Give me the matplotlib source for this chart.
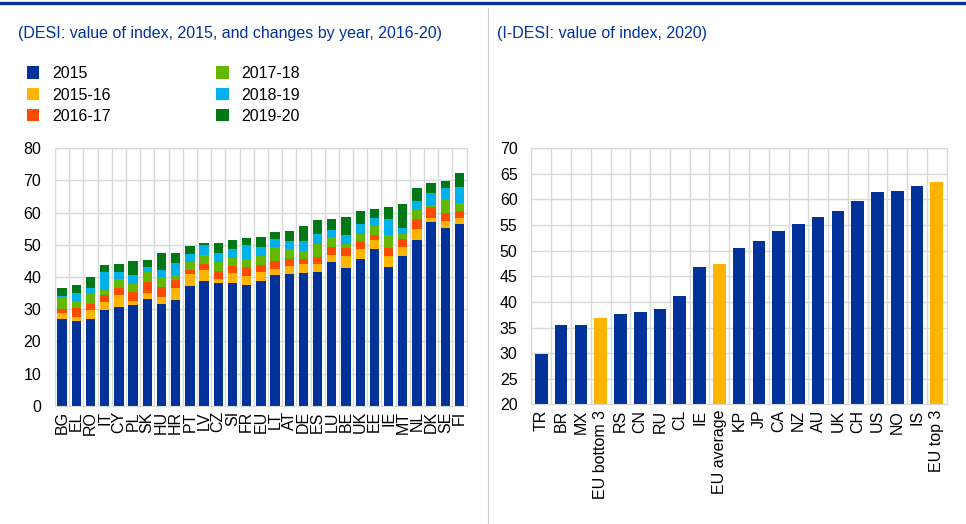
import numpy as np
import matplotlib
matplotlib.use("Agg")
import matplotlib.pyplot as plt
from matplotlib.lines import Line2D

plt.rcParams["font.family"] = ["Liberation Sans", "DejaVu Sans"]
plt.rcParams["font.size"] = 11.5

# datos panel izquierdo (DESI)
countries = ["BG", "EL", "RO", "IT", "CY", "PL", "SK", "HU", "HR", "PT", "LV", "CZ", "SI", "FR", "EU",
             "LT", "AT", "DE", "ES", "LU", "BE", "UK", "EE", "IE", "MT", "NL", "DK", "SE", "FI"]
v2015 = [26.9, 26.2, 27.0, 29.8, 30.8, 31.4, 33.1, 31.7, 32.9, 37.2, 38.6, 38.2, 38.2, 37.5, 38.9,
         40.5, 40.8, 41.2, 41.4, 44.8, 42.9, 45.7, 48.8, 43.1, 46.5, 51.4, 57.1, 55.3, 56.6]
d1516 = [1.9, 1.4, 2.8, 2.4, 3.6, 1.2, 1.9, 2.2, 3.7, 3.6, 3.5, 1.3, 3.1, 2.9, 2.5,
         2.1, 2.7, 2.9, 2.7, 2.1, 3.5, 3.1, 2.7, 3.5, 2.8, 3.5, 1.3, 2.2, 1.7]
d1617 = [1.3, 2.9, 1.9, 2.1, 2.3, 2.8, 3.5, 3.0, 2.5, 1.4, 2.0, 2.4, 2.0, 2.7, 2.3,
         2.5, 2.0, 1.6, 2.0, 2.3, 2.5, 2.4, 1.6, 2.3, 2.6, 3.0, 3.2, 2.5, 2.1]
d1718 = [3.6, 1.9, 3.3, 1.8, 2.8, 2.3, 3.2, 3.1, 1.6, 2.6, 2.6, 2.8, 2.6, 2.6, 2.8,
         4.3, 3.1, 2.4, 4.2, 3.3, 1.3, 2.1, 2.6, 4.1, 1.4, 3.0, 0.9, 4.1, 2.5]
d1819 = [0.3, 2.7, 1.7, 5.5, 1.9, 3.0, 1.3, 2.3, 3.6, 2.3, 3.1, 2.6, 2.8, 4.1, 2.8,
         2.5, 2.7, 3.2, 3.2, 2.1, 2.8, 3.3, 2.6, 5.0, 2.0, 2.8, 3.5, 3.5, 5.1]
d1920 = [2.6, 2.3, 3.4, 2.0, 2.6, 4.2, 2.2, 5.2, 3.2, 2.4, 0.9, 3.4, 2.7, 2.3, 3.2,
         2.0, 3.1, 4.7, 4.1, 3.3, 5.7, 3.8, 2.7, 3.8, 7.3, 4.0, 3.2, 2.1, 4.3]
series_names = ["2015", "2015-16", "2016-17", "2017-18", "2018-19", "2019-20"]
series_colors = ["#003299", "#FFB400", "#FF4B00", "#65B800", "#00B1EA", "#007816"]

# datos panel derecho (I-DESI)
idesi_labels = ["TR", "BR", "MX", "EU bottom 3", "RS", "CN", "RU", "CL", "IE", "EU average", "KP",
                "JP", "CA", "NZ", "AU", "UK", "CH", "US", "NO", "IS", "EU top 3"]
idesi_values = [29.8, 35.5, 35.5, 36.9, 37.7, 38.0, 38.7, 41.1, 46.8, 47.5, 50.5,
                51.8, 53.8, 55.3, 56.6, 57.8, 59.7, 61.5, 61.7, 62.7, 63.4]
idesi_eu = ["EU bottom 3", "EU average", "EU top 3"]

grid_col = "#d9d9d9"
title_col = "#003299"

fig = plt.figure(figsize=(9.66, 5.24), dpi=100)

def style_axes(ax, n):
    ax.set_xlim(-0.5, n - 0.5)
    ax.set_xticks(np.arange(n + 1) - 0.5, minor=True)
    ax.grid(True, which="minor", axis="x", color=grid_col, lw=1)
    ax.grid(True, which="major", axis="y", color=grid_col, lw=1)
    ax.set_axisbelow(True)
    for s in ax.spines.values():
        s.set_color(grid_col)
    ax.tick_params(which="both", length=0, labelsize=11.5)
    ax.tick_params(axis="x", rotation=90, pad=4)
    ax.tick_params(axis="y", pad=10)

# panel izquierdo
ax1 = fig.add_axes([0.0569, 0.2258, 0.4262, 0.4912])
x = np.arange(len(countries))
bottom = np.zeros(len(countries))
for name, vals, col in zip(series_names, [v2015, d1516, d1617, d1718, d1819, d1920], series_colors):
    ax1.bar(x, vals, 0.66, bottom=bottom, color=col, label=name)
    bottom += np.array(vals)
style_axes(ax1, len(countries))
ax1.set_ylim(0, 80)
ax1.set_yticks(range(0, 81, 10))
ax1.set_xticks(x)
ax1.set_xticklabels(countries)
ax1.legend(loc="upper left", bbox_to_anchor=(0.021, 0.886), bbox_transform=fig.transFigure,
           ncol=2, frameon=False, handlelength=0.8, handleheight=0.8, handletextpad=0.8,
           columnspacing=6.6, labelspacing=0.4, fontsize=11.5, borderaxespad=0)

# panel derecho
ax2 = fig.add_axes([0.5502, 0.2284, 0.4298, 0.4886])
x2 = np.arange(len(idesi_labels))
cols2 = ["#FFB400" if l in idesi_eu else "#003299" for l in idesi_labels]
ax2.bar(x2, idesi_values, 0.64, color=cols2)
style_axes(ax2, len(idesi_labels))
ax2.set_ylim(20, 70)
ax2.set_yticks(range(20, 71, 5))
ax2.set_xticks(x2)
ax2.set_xticklabels(idesi_labels)

# titulos y lineas
fig.text(0.019, 0.937, "(DESI: value of index, 2015, and changes by year, 2016-20)",
         color=title_col, fontsize=11.5, va="center")
fig.text(0.514, 0.937, "(I-DESI: value of index, 2020)", color=title_col, fontsize=11.5, va="center")
fig.add_artist(Line2D([0, 1], [0.994, 0.994], color=title_col, lw=2.4, transform=fig.transFigure))
fig.add_artist(Line2D([0.505, 0.505], [0, 0.985], color="#d0d0d0", lw=0.8, transform=fig.transFigure))

plt.savefig("out.png", dpi=100)
